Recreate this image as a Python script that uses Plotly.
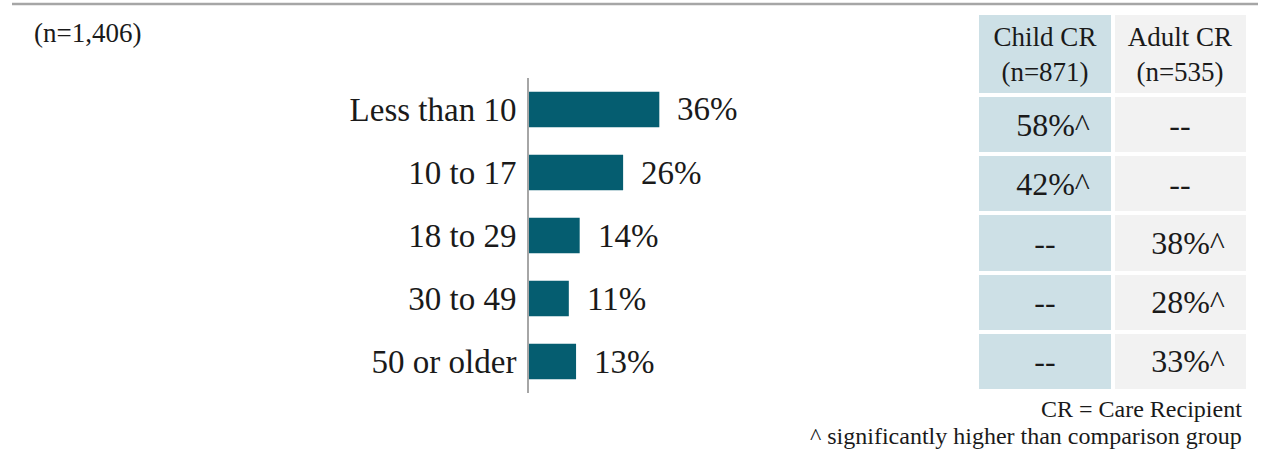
import plotly.graph_objects as go

# ---------------- data ----------------
categories = ["Less than 10", "10 to 17", "18 to 29", "30 to 49", "50 or older"]
overall = [36, 26, 14, 11, 13]
child_cr = ["58%^", "42%^", "--", "--", "--"]
adult_cr = ["--", "--", "38%^", "28%^", "33%^"]
table_headers = ["Child CR<br>(n=871)", "Adult CR<br>(n=535)"]
sample_note = "(n=1,406)"
footnotes = ["CR = Care Recipient", "^ significantly higher than comparison group"]

# ---------------- style ----------------
W, H = 1262, 456
FONT = "Liberation Serif"
TEXT = "#1a1a1a"
BAR = "#055d70"
BLUE_CELL = "#cde0e6"
GRAY_CELL = "#f2f2f2"
LINE = "#a6a6a6"


def fx(p):
    return p / W


def fy(p):
    return 1 - p / H


fig = go.Figure()

# Bar chart
fig.add_trace(go.Bar(
    y=categories, x=overall, orientation="h",
    marker=dict(color=BAR, line_width=0), width=0.56,
    xaxis="x", yaxis="y", hoverinfo="skip",
))
for c, v in zip(categories, overall):
    fig.add_annotation(
        x=v, y=c, xref="x", yref="y", text=f"{v}%", showarrow=False,
        xanchor="left", yanchor="middle", xshift=16,
        font=dict(size=33, family=FONT, color=TEXT),
    )

# Table as heatmaps
n_rows = len(categories)
HEADER_H = 82
ROW_H = 59.2
body_edges = [HEADER_H + i * ROW_H for i in range(n_rows + 1)]


def cell_text(s):
    return "\u00a0\u00a0" + s if s.endswith("^") else s


body_text = [[cell_text(a), cell_text(b)] for a, b in zip(child_cr, adult_cr)]
body_z = [[0, 1] for _ in range(n_rows)]
cs = [[0, BLUE_CELL], [1, GRAY_CELL]]

fig.add_trace(go.Heatmap(
    x=[0, 1, 2], y=[0, HEADER_H], z=[[0, 1]], text=[table_headers],
    texttemplate="%{text}", textfont=dict(size=27, family=FONT, color=TEXT),
    colorscale=cs, zmin=0, zmax=1, showscale=False, xgap=4, ygap=4,
    xaxis="x2", yaxis="y2", hoverinfo="skip",
))
fig.add_trace(go.Heatmap(
    x=[0, 1, 2], y=body_edges, z=body_z, text=body_text,
    texttemplate="%{text}", textfont=dict(size=32, family=FONT, color=TEXT),
    colorscale=cs, zmin=0, zmax=1, showscale=False, xgap=4, ygap=4,
    xaxis="x2", yaxis="y2", hoverinfo="skip",
))

fig.update_layout(
    width=W, height=H,
    margin=dict(l=0, r=0, t=0, b=0),
    paper_bgcolor="white", plot_bgcolor="rgba(0,0,0,0)",
    showlegend=False,
    font=dict(family=FONT, color=TEXT),
    xaxis=dict(domain=[fx(529), fx(529 + 362)], range=[0, 100], visible=False, fixedrange=True),
    yaxis=dict(
        domain=[fy(393), fy(78)], range=[4.5, -0.5], type="category",
        showline=True, linecolor=LINE, linewidth=2, showgrid=False, zeroline=False,
        ticks="", ticklabelstandoff=4,
        tickfont=dict(size=33, family=FONT, color=TEXT), fixedrange=True,
    ),
    xaxis2=dict(domain=[fx(977), fx(1248)], range=[0, 2], visible=False, fixedrange=True),
    yaxis2=dict(domain=[fy(391), fy(13)], range=[HEADER_H + n_rows * ROW_H, 0],
                visible=False, fixedrange=True),
)

# Top rule
fig.add_shape(type="line", xref="paper", yref="paper",
              x0=fx(12), x1=fx(1258), y0=fy(4), y1=fy(4),
              line=dict(color=LINE, width=2.5))

# Notes
fig.add_annotation(x=fx(32), y=fy(33), xref="paper", yref="paper", text=sample_note,
                   showarrow=False, xanchor="left", yanchor="middle",
                   font=dict(size=27, family=FONT, color=TEXT))
fig.add_annotation(x=fx(1244), y=fy(409), xref="paper", yref="paper", text=footnotes[0],
                   showarrow=False, xanchor="right", yanchor="middle",
                   font=dict(size=24, family=FONT, color=TEXT))
fig.add_annotation(x=fx(1244), y=fy(436), xref="paper", yref="paper", text=footnotes[1],
                   showarrow=False, xanchor="right", yanchor="middle",
                   font=dict(size=24, family=FONT, color=TEXT))

fig.write_html(
    "out.html",
    config={"displayModeBar": False, "staticPlot": True},
    post_script="document.body.style.margin='0';document.body.style.overflow='hidden';",
)
